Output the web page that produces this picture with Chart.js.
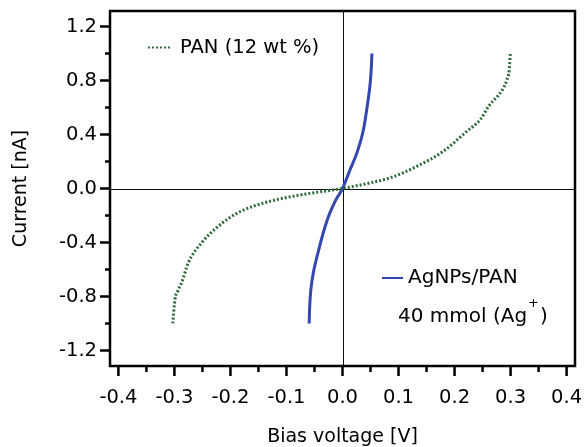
<!DOCTYPE html>
<html>
<head>
<meta charset="utf-8">
<title>I-V curves</title>
<script src="https://cdn.jsdelivr.net/npm/chart.js@4.4.1/dist/chart.umd.min.js"></script>
<style>
  html, body { margin: 0; padding: 0; background: #fff; }
  canvas { display: block; }
</style>
</head>
<body>
<canvas id="iv-chart" width="584" height="447"></canvas>
<script>
// PAN (12 wt %)
const panVoltage = [-0.303, -0.299, -0.294, -0.287, -0.275, -0.251, -0.221, -0.186, -0.138, -0.090, -0.049, 0.0, 0.044, 0.085, 0.133, 0.180, 0.222, 0.246, 0.261, 0.2875, 0.2935, 0.2977, 0.2995];
const panCurrent = [-1.0, -0.82, -0.76, -0.696, -0.548, -0.40, -0.277, -0.178, -0.104, -0.059, -0.030, 0.0, 0.037, 0.079, 0.165, 0.276, 0.424, 0.511, 0.61, 0.746, 0.807, 0.881, 1.0];

// AgNPs/PAN 40 mmol (Ag+) - solid blue curve
const agVoltage = [-0.0595, -0.0588, -0.0577, -0.0546, -0.043, -0.028, -0.013, 0.0, 0.0137, 0.0257, 0.0375, 0.045, 0.0495, 0.0515, 0.0525];
const agCurrent = [-1.0, -0.90, -0.81, -0.687, -0.464, -0.242, -0.094, 0.0, 0.141, 0.264, 0.437, 0.635, 0.783, 0.90, 1.0];

const xTickValues = [-0.4, -0.3, -0.2, -0.1, 0, 0.1, 0.2, 0.3, 0.4];
const yTickValues = [-1.2, -0.8, -0.4, 0, 0.4, 0.8, 1.2];
const xMinorValues = [-0.35, -0.25, -0.15, -0.05, 0.05, 0.15, 0.25, 0.35];
const yMinorValues = [-1.0, -0.6, -0.2, 0.2, 0.6, 1.0];

const fonte = "'DejaVu Sans', 'Liberation Sans', sans-serif";
const verde = "#2d6a3c";
const azul = "#3347b0";

function juntarPontos(xs, ys) {
  return xs.map((x, i) => ({ x: x, y: ys[i] }));
}

// frame, zero lines and tick marks (major + minor) drawn from the scales
const molduraPlugin = {
  id: "moldura",
  beforeDatasetsDraw(chart) {
    const { ctx, chartArea: a, scales: { x, y } } = chart;
    ctx.save();
    ctx.strokeStyle = "#111";
    ctx.lineWidth = 1;
    const x0 = Math.round(x.getPixelForValue(0)) + 0.5;
    const y0 = Math.round(y.getPixelForValue(0)) + 0.5;
    ctx.beginPath();
    ctx.moveTo(a.left, y0); ctx.lineTo(a.right, y0);
    ctx.moveTo(x0, a.top); ctx.lineTo(x0, a.bottom);
    ctx.stroke();
    ctx.restore();
  },
  afterDatasetsDraw(chart) {
    const { ctx, chartArea: a, scales: { x, y } } = chart;
    ctx.save();
    ctx.strokeStyle = "#000";
    ctx.lineWidth = 2.5;
    ctx.strokeRect(a.left, a.top, a.right - a.left, a.bottom - a.top);
    ctx.beginPath();
    yTickValues.forEach(v => {
      const p = y.getPixelForValue(v);
      ctx.moveTo(a.left, p); ctx.lineTo(a.left - 10, p);
    });
    yMinorValues.forEach(v => {
      const p = y.getPixelForValue(v);
      ctx.moveTo(a.left, p); ctx.lineTo(a.left - 5, p);
    });
    xTickValues.forEach(v => {
      const p = x.getPixelForValue(v);
      ctx.moveTo(p, a.bottom); ctx.lineTo(p, a.bottom + 10);
    });
    xMinorValues.forEach(v => {
      const p = x.getPixelForValue(v);
      ctx.moveTo(p, a.bottom); ctx.lineTo(p, a.bottom + 6);
    });
    ctx.stroke();
    ctx.restore();
  }
};

// legend entries placed inside the plot like in the original figure
const legendaPlugin = {
  id: "legenda",
  afterDraw(chart) {
    const { ctx, chartArea: a } = chart;
    const ds = chart.data.datasets;
    ctx.save();
    ctx.fillStyle = "#000";
    ctx.textBaseline = "middle";

    // PAN (12 wt %)
    ctx.strokeStyle = ds[0].borderColor;
    ctx.lineWidth = 2;
    ctx.setLineDash([2, 2]);
    ctx.beginPath();
    ctx.moveTo(a.left + 38, a.top + 36.5); ctx.lineTo(a.left + 62, a.top + 36.5);
    ctx.stroke();
    ctx.setLineDash([]);
    ctx.font = "19.5px " + fonte;
    ctx.fillText(ds[0].label, a.left + 70, a.top + 37);

    // AgNPs/PAN
    ctx.font = "20px " + fonte;
    ctx.strokeStyle = ds[1].borderColor;
    ctx.beginPath();
    ctx.moveTo(a.left + 272, a.top + 267); ctx.lineTo(a.left + 293, a.top + 267);
    ctx.stroke();
    ctx.fillText(ds[1].label, a.left + 298, a.top + 267);

    let px = a.left + 288;
    const py = a.top + 306;
    const parte1 = "40 mmol (Ag";
    ctx.fillText(parte1, px, py);
    px += ctx.measureText(parte1).width + 1;
    ctx.font = "13px " + fonte;
    ctx.fillText("+", px, py - 13);
    px += ctx.measureText("+").width + 1;
    ctx.font = "20px " + fonte;
    ctx.fillText(")", px, py);
    ctx.restore();
  }
};

new Chart(document.getElementById("iv-chart"), {
  type: "line",
  data: {
    datasets: [
      {
        label: "PAN (12 wt %)",
        data: juntarPontos(panVoltage, panCurrent),
        borderColor: verde,
        borderWidth: 3,
        borderDash: [2, 2],
        pointRadius: 0,
        fill: false,
        cubicInterpolationMode: "monotone"
      },
      {
        label: "AgNPs/PAN",
        data: juntarPontos(agVoltage, agCurrent),
        borderColor: azul,
        borderWidth: 3,
        pointRadius: 0,
        fill: false,
        cubicInterpolationMode: "monotone"
      }
    ]
  },
  options: {
    responsive: false,
    animation: false,
    layout: { padding: { top: 11, right: 9, left: 0, bottom: 0 } },
    plugins: {
      legend: { display: false },
      tooltip: { enabled: false }
    },
    scales: {
      x: {
        type: "linear",
        min: -0.415,
        max: 0.415,
        grid: { display: false, drawTicks: false },
        border: { display: false },
        ticks: {
          color: "#000",
          font: { family: fonte, size: 19.5 },
          padding: 20,
          maxRotation: 0,
          autoSkip: false,
          callback: v => v.toFixed(1)
        },
        afterBuildTicks: s => { s.ticks = xTickValues.map(v => ({ value: v })); },
        afterFit: s => { s.height = 81; s.paddingLeft = 0; s.paddingRight = 0; },
        title: {
          display: true,
          text: "Bias voltage [V]",
          color: "#000",
          font: { family: fonte, size: 19 },
          padding: { top: 0, bottom: -1 }
        }
      },
      y: {
        type: "linear",
        min: -1.315,
        max: 1.315,
        grid: { display: false, drawTicks: false },
        border: { display: false },
        ticks: {
          color: "#000",
          font: { family: fonte, size: 19.5 },
          padding: 13,
          autoSkip: false,
          callback: v => v.toFixed(1)
        },
        afterBuildTicks: s => { s.ticks = yTickValues.map(v => ({ value: v })); },
        afterFit: s => { s.width = 110; s.paddingTop = 0; s.paddingBottom = 0; },
        title: {
          display: true,
          text: "Current [nA]",
          color: "#000",
          font: { family: fonte, size: 19 },
          padding: { top: 10, bottom: 0 }
        }
      }
    }
  },
  plugins: [molduraPlugin, legendaPlugin]
});
</script>
</body>
</html>
